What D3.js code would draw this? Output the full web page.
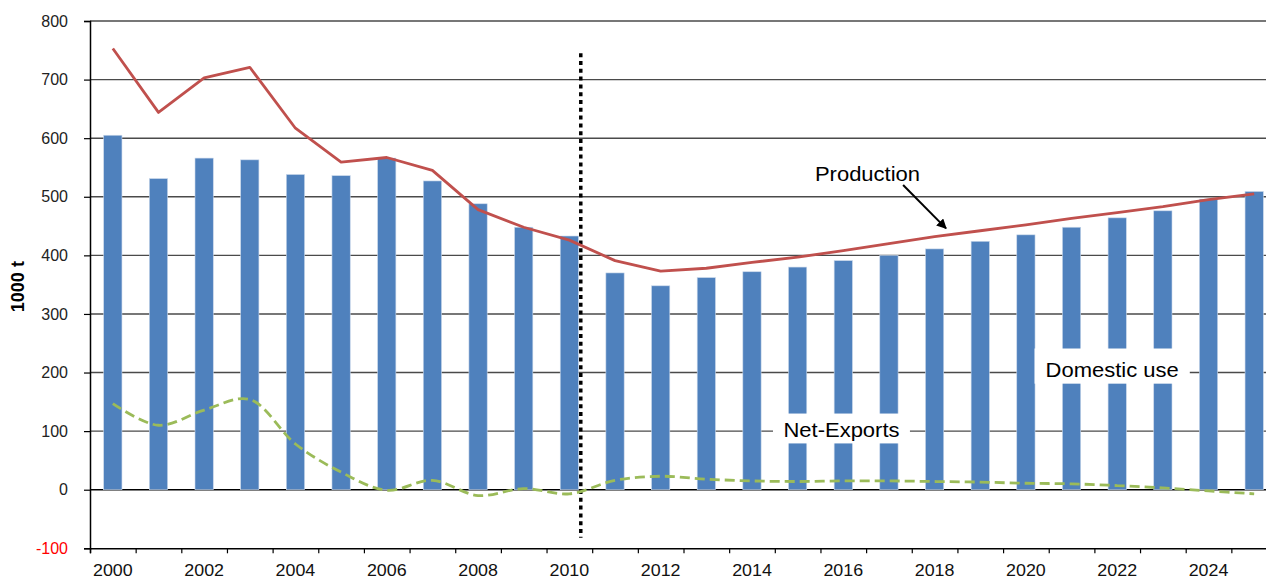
<!DOCTYPE html>
<html>
<head>
<meta charset="utf-8">
<script src="https://cdn.jsdelivr.net/npm/d3@7"></script>
<style>
  html, body { margin: 0; padding: 0; background: #fff; overflow: hidden; }
  svg { display: block; font-family: "Liberation Sans", Arial, sans-serif; }
</style>
</head>
<body>
<svg id="chart" width="1266" height="579"></svg>
<script>
// ---------------- data ----------------
const years = d3.range(2000, 2026);
const xTickLabels = ["2000","2002","2004","2006","2008","2010","2012","2014","2016","2018","2020","2022","2024"];
const yTicks = [-100, 0, 100, 200, 300, 400, 500, 600, 700, 800];
const domesticUse = [605, 531, 566, 563, 538, 536, 566, 527, 488, 448, 433, 370, 348, 362, 372, 380, 391, 400, 411, 424, 435, 448, 464, 476, 496, 509];
const production  = [753, 644, 703, 721, 617, 559, 567, 545, 478, 448, 426, 391, 373, 378, 388, 397, 408, 420, 432, 442, 452, 463, 473, 483, 495, 505];
const netExports  = [147, 110, 136, 154, 78, 30, -1, 16, -10, 2, -7, 16, 23, 18, 15, 14, 15, 15, 14, 13, 11, 10, 7, 3, -2, -7];
const yAxisTitle = "1000 t";
// divider between history and projection (year position, value range)
const divider = { year: 2010.25, from: 745, to: -82 };
// text annotations (year position, value position)
const labels = [
  { text: "Production",   year: 2016.53, value: 527, box: false },
  { text: "Net-Exports",  year: 2015.96, value: 90,  box: true, boxTop: 130, boxBottom: 79,  boxHalfYears: 1.5 },
  { text: "Domestic use", year: 2021.89, value: 193, box: true, boxTop: 241, boxBottom: 181, boxHalfYears: 1.7 }
];
const arrow = { fromYear: 2017.31, fromValue: 520, toYear: 2018.25, toValue: 446 };

// ---------------- layout ----------------
const svg = d3.select("#chart");
const mLeft = 90, mRight = 1277, mTop = 21, mBottom = 548.3;

const x = d3.scaleLinear().domain([1999.5, 2025.5]).range([mLeft, mRight]);
const xBand = d3.scaleBand().domain(years).range([mLeft, mRight]).paddingInner(0.6).paddingOuter(0.3);
const y = d3.scaleLinear().domain([-100, 800]).range([mBottom, mTop]);

const barColor = "#4F81BD", prodColor = "#C0504D", netColor = "#9BBB59";

// gridlines
svg.append("g").selectAll("line")
  .data(yTicks.filter(v => v > -100))
  .join("line")
  .attr("x1", mLeft).attr("x2", 1266)
  .attr("y1", d => y(d)).attr("y2", d => y(d))
  .attr("stroke", d => d === 0 ? "#000" : "#4a4a4a")
  .attr("stroke-width", 1.4);

// bars
svg.append("g").selectAll("rect")
  .data(years.map((yr, i) => ({ yr, v: domesticUse[i] })))
  .join("rect")
  .attr("x", d => xBand(d.yr))
  .attr("width", xBand.bandwidth())
  .attr("y", d => y(d.v))
  .attr("height", d => y(0) - y(d.v))
  .attr("fill", barColor)
  .attr("stroke", "#c9d7ea")
  .attr("stroke-width", 0.6);

// white label boxes
const boxG = svg.append("g");
labels.filter(l => l.box).forEach(l => {
  boxG.append("rect")
    .attr("x", x(l.year - l.boxHalfYears))
    .attr("width", x(l.year + l.boxHalfYears) - x(l.year - l.boxHalfYears))
    .attr("y", y(l.boxTop))
    .attr("height", y(l.boxBottom) - y(l.boxTop))
    .attr("fill", "#fff");
});

// divider dotted line
svg.append("line")
  .attr("x1", x(divider.year)).attr("x2", x(divider.year))
  .attr("y1", y(divider.from)).attr("y2", y(divider.to))
  .attr("stroke", "#000").attr("stroke-width", 3.5)
  .attr("stroke-dasharray", "4,3.8");

// production line
svg.append("path")
  .datum(years.map((yr, i) => [yr, production[i]]))
  .attr("fill", "none")
  .attr("stroke", prodColor)
  .attr("stroke-width", 2.8)
  .attr("stroke-linejoin", "round")
  .attr("d", d3.line().x(d => x(d[0])).y(d => y(d[1])));

// net exports line
svg.append("path")
  .datum(years.map((yr, i) => [yr, netExports[i]]))
  .attr("fill", "none")
  .attr("stroke", netColor)
  .attr("stroke-width", 2.8)
  .attr("stroke-dasharray", "10,5")
  .attr("d", d3.line().curve(d3.curveCatmullRom).x(d => x(d[0])).y(d => y(d[1])));

// y axis
const yAxis = svg.append("g")
  .attr("transform", `translate(${mLeft},0)`)
  .call(d3.axisLeft(y).tickValues(yTicks).tickSize(6).tickPadding(16).tickFormat(d => String(d)));
yAxis.select(".domain").attr("stroke", "#000").attr("stroke-width", 1.5);
yAxis.selectAll(".tick line").attr("stroke", "#000").attr("stroke-width", 1.2);
yAxis.selectAll(".tick text")
  .attr("font-size", 16)
  .attr("font-family", "Liberation Sans, Arial, sans-serif")
  .attr("fill", d => d < 0 ? "#ff0000" : "#222");

// x axis
const xAxis = svg.append("g")
  .attr("transform", `translate(0,${mBottom})`)
  .call(d3.axisBottom(x).tickValues(d3.range(1999.5, 2026, 1)).tickSize(5).tickFormat(""));
xAxis.select(".domain").attr("stroke", "#000").attr("stroke-width", 1.5);
xAxis.selectAll(".tick line").attr("stroke", "#000").attr("stroke-width", 1.2);

svg.append("g").selectAll("text")
  .data(xTickLabels)
  .join("text")
  .attr("transform", d => `translate(${x(+d)},${mBottom + 28}) scale(1.05,1)`)
  .attr("text-anchor", "middle")
  .attr("font-size", 17)
  .attr("fill", "#111")
  .text(d => d);

// y axis title
svg.append("text")
  .attr("transform", `translate(24,${(y(300) + y(400)) / 2 + 2}) rotate(-90)`)
  .attr("text-anchor", "middle")
  .attr("font-size", 18)
  .attr("font-weight", "bold")
  .attr("fill", "#000")
  .text(yAxisTitle);

// annotation texts
svg.append("g").selectAll("text")
  .data(labels)
  .join("text")
  .attr("transform", d => `translate(${x(d.year)},${y(d.value)}) scale(1.1,1)`)
  .attr("text-anchor", "middle")
  .attr("font-size", 20)
  .attr("fill", "#000")
  .text(d => d.text);

// arrow
svg.append("defs").append("marker")
  .attr("id", "arrowhead")
  .attr("viewBox", "0 0 10 10")
  .attr("refX", 9).attr("refY", 5)
  .attr("markerWidth", 5).attr("markerHeight", 5)
  .attr("orient", "auto")
  .append("path").attr("d", "M0,0 L10,5 L0,10 z").attr("fill", "#000");

svg.append("line")
  .attr("x1", x(arrow.fromYear)).attr("y1", y(arrow.fromValue))
  .attr("x2", x(arrow.toYear)).attr("y2", y(arrow.toValue))
  .attr("stroke", "#000").attr("stroke-width", 2)
  .attr("marker-end", "url(#arrowhead)");
</script>
</body>
</html>
